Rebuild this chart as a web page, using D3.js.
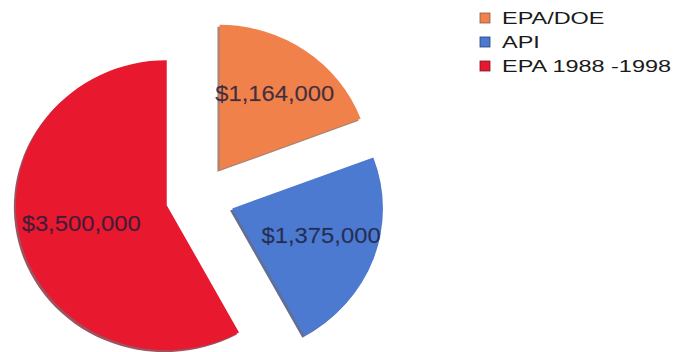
<!DOCTYPE html>
<html>
<head>
<meta charset="utf-8">
<script src="https://cdn.jsdelivr.net/npm/d3@7"></script>
<style>
  body { margin: 0; background: #fff; }
  .slicelabel { font-family: "Liberation Sans", Arial, sans-serif; font-size: 22px; fill: #1c1c3c; fill-opacity: 0.82; stroke: #1c1c3c; stroke-opacity: 0.35; stroke-width: 0.4; }
  .legendtext { font-family: "Liberation Sans", Arial, sans-serif; font-size: 17px; fill: #1a1a1a; }
</style>
</head>
<body>
<div id="pie-chart"></div>
<script>
// funding sources, clockwise from 12 o'clock
var categories = ["EPA/DOE", "API", "EPA 1988 -1998"];
var amounts = [1164000, 1375000, 3500000];
var sliceColors = ["#f0814b", "#4c7ad0", "#e8182f"];
var shadowColors = ["#8a5a4a", "#2c3f6e", "#7a1a2a"];

function PieChart(divId) {
    var self = this;
    self.width = 674;
    self.height = 352;
    self.svg = d3.select(divId).append("svg")
        .attr("width", self.width)
        .attr("height", self.height);
};

PieChart.prototype.update = function () {
    var self = this;
    var cx = 200, cy = 197, radius = 145, explode = 33;

    var data = categories.map(function (c, i) {
        return { name: c, value: amounts[i], color: sliceColors[i], shadow: shadowColors[i] };
    });

    var pie = d3.pie().sort(null).value(function (d) { return d.value; });
    var arc = d3.arc().innerRadius(0).outerRadius(radius);
    var labelArc = d3.arc().innerRadius(88).outerRadius(88);
    var fmt = d3.format("$,");

    // push each slice out along its bisector
    function offset(d) {
        var a = (d.startAngle + d.endAngle) / 2;
        return [Math.sin(a) * explode, -Math.cos(a) * explode];
    }

    // the original pie is a touch wider than tall
    var g = self.svg.append("g").attr("transform", "translate(" + cx + "," + cy + ") scale(1.04,1)");

    var slices = g.selectAll("g.slice")
        .data(pie(data))
        .enter()
        .append("g")
        .attr("class", "slice")
        .attr("transform", function (d) {
            var o = offset(d);
            return "translate(" + o[0] + "," + o[1] + ")";
        });

    // thin dark edge gives the bevelled look
    slices.append("path")
        .attr("d", arc)
        .attr("transform", "translate(-2,2)")
        .attr("fill", function (d) { return d.data.shadow; })
        .attr("opacity", 0.75);

    slices.append("path")
        .attr("d", arc)
        .attr("fill", function (d) { return d.data.color; });

    slices.append("text")
        .attr("class", "slicelabel")
        .attr("transform", function (d) {
            var c = labelArc.centroid(d);
            return "translate(" + (c[0] + 3) + "," + (c[1] - 4) + ") scale(1.04,1)";
        })
        .attr("text-anchor", "middle")
        .attr("dy", "0.36em")
        .text(function (d) { return fmt(d.data.value); });

    // legend
    var legend = self.svg.append("g").attr("transform", "translate(480,18)");
    var rows = legend.selectAll("g")
        .data(data)
        .enter()
        .append("g")
        .attr("transform", function (d, i) { return "translate(0," + (i * 24) + ")"; });

    rows.append("rect")
        .attr("x", 0).attr("y", -5)
        .attr("width", 10).attr("height", 10)
        .attr("fill", function (d) { return d.color; })
        .attr("stroke", function (d) { return d.shadow; })
        .attr("stroke-width", 0.8);

    rows.append("text")
        .attr("class", "legendtext")
        .attr("transform", "translate(22,6) scale(1.38,1)")
        .text(function (d) { return d.name; });
};

var chart = new PieChart("#pie-chart");
chart.update();
</script>
</body>
</html>
